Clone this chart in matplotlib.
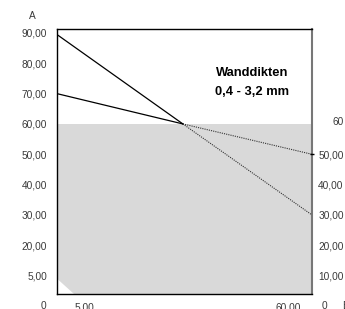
import matplotlib
matplotlib.use("Agg")
import matplotlib.pyplot as plt
from matplotlib.transforms import blended_transform_factory

plt.rcParams['font.family'] = ['Liberation Sans', 'DejaVu Sans']

# --- data ---
left_ticks = [90, 80, 70, 60, 50, 40, 30, 20, 10]
left_labels = ['90,00', '80,00', '70,00', '60,00', '50,00', '40,00', '30,00', '20,00', '5,00']
right_ticks = [50, 40, 30, 20, 10]
right_labels = ['50,00', '40,00', '30,00', '20,00', '10,00']
right_top_tick = 60
right_top_label = '60'
x_ticks = [0.106, 0.906]
x_labels = ['5,00', '60,00']

# two lines meeting in one point, dotted after the crossing
cross = (0.494, 60.0)
line_a = [(0.0, 89.5), cross, (1.0, 30.0)]
line_b = [(0.0, 70.0), cross, (1.0, 50.0)]

fill_top = 60.0
corner = [(0.0, 9.0), (0.067, 3.9)]

ylim = (3.9, 91.3)

label_color = '#3a3a3a'
fs = 7.3

fig = plt.figure(figsize=(3.45, 3.09), dpi=100)
ax = fig.add_axes([0.165, 0.0485, 0.739, 0.8575])
ax.set_xlim(0, 1)
ax.set_ylim(*ylim)

# grey area with the white corner cut out
ax.fill_between([0, 1], ylim[0], fill_top, color='#d9d9d9', lw=0, zorder=1)
ax.fill([0, corner[0][0], corner[1][0]], [ylim[0], corner[0][1], corner[1][1]],
        color='white', lw=0, zorder=1.5)

for line in (line_a, line_b):
    (x0, y0), (x1, y1), (x2, y2) = line
    ax.plot([x0, x1], [y0, y1], color='black', lw=0.9, zorder=3)
    ax.plot([x1, x2], [y1, y2], color='#333333', lw=0.8, ls=(0, (1, 1)), zorder=3)

ax.set_yticks(left_ticks)
ax.set_yticklabels(left_labels)
ax.set_xticks(x_ticks)
ax.set_xticklabels(x_labels)
ax.tick_params(axis='both', length=0, labelsize=fs, labelcolor=label_color)
ax.tick_params(axis='y', pad=7)
ax.tick_params(axis='x', pad=6)

for side in ('left', 'bottom', 'top'):
    ax.spines[side].set_linewidth(1.0)
    ax.spines[side].set_color('black')
ax.spines['right'].set_linewidth(1.5)
ax.spines['right'].set_color('#777777')

ax2 = ax.twinx()
ax2.set_ylim(*ylim)
ax2.set_yticks(right_ticks)
ax2.set_yticklabels(right_labels)
ax2.tick_params(axis='y', length=0, labelsize=fs, labelcolor=label_color, pad=4.5)
for s in ax2.spines.values():
    s.set_visible(False)

# small mark where the dotted line meets the right axis
ax.plot([1.0], [50.0], marker='_', color='black', ms=3, mew=1, clip_on=False, zorder=4)

tr = blended_transform_factory(ax.transAxes, ax.transData)
ax.text(1.125, right_top_tick + 0.6, right_top_label, transform=tr, ha='right', va='center',
        fontsize=fs, color=label_color, clip_on=False)

# labels at value 0, axis names
ax.text(-0.04, 0, '0', transform=tr, ha='right', va='center', fontsize=fs, color=label_color, clip_on=False)
ax.text(1.04, 0, '0', transform=tr, ha='left', va='center', fontsize=fs, color=label_color, clip_on=False)
ax.text(1.12, 0, 'B', transform=tr, ha='left', va='center', fontsize=fs, color=label_color, clip_on=False)
ax.text(-0.095, 95.5, 'A', transform=tr, ha='center', va='center', fontsize=fs, color=label_color, clip_on=False)

ax.text(0.765, 73.7, 'Wanddikten\n0,4 - 3,2 mm', transform=tr, ha='center', va='center',
        fontsize=9.3, fontweight='bold', linespacing=1.75, zorder=5)

fig.savefig('out.png', dpi=100)
